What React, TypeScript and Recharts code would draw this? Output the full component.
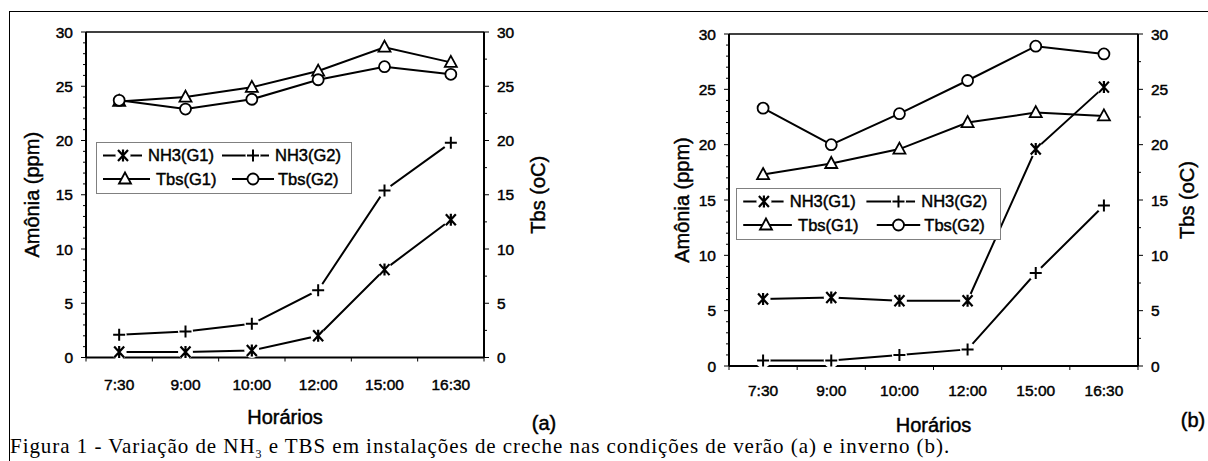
import React from "react"
import { LineChart, Line, XAxis, YAxis, Legend, ReferenceLine, Label } from "recharts"

const horarios = ["7:30", "9:00", "10:00", "12:00", "15:00", "16:30"]
const seriesNames = ["NH3(G1)", "NH3(G2)", "Tbs(G1)", "Tbs(G2)"]

// (a) verão
const nh3G1Verao = [0.5, 0.5, 0.65, 2.0, 8.1, 12.7]
const nh3G2Verao = [2.1, 2.4, 3.1, 6.2, 15.4, 19.8]
const tbsG1Verao = [23.6, 24.0, 24.9, 26.4, 28.6, 27.2]
const tbsG2Verao = [23.7, 22.9, 23.8, 25.6, 26.8, 26.1]

// (b) inverno
const nh3G1Inverno = [6.05, 6.2, 5.9, 5.9, 19.6, 25.2]
const nh3G2Inverno = [0.5, 0.5, 1.0, 1.5, 8.4, 14.5]
const tbsG1Inverno = [17.3, 18.3, 19.6, 22.0, 22.9, 22.6]
const tbsG2Inverno = [23.3, 20.0, 22.8, 25.8, 28.9, 28.2]

const leftTicks = [0, 1, 2, 3, 4, 5, 6, 7, 8, 9, 10, 11, 12, 13, 14, 15, 16, 17, 18, 19, 20, 21, 22, 23, 24, 25, 26, 27, 28, 29, 30]
const rightTicks = [0, 2.5, 5, 7.5, 10, 12.5, 15, 17.5, 20, 22.5, 25, 27.5, 30]

const SANS = "'Liberation Sans', Arial, sans-serif"
// scanned print looks heavier than plain Arial, so thicken the glyphs a bit
const ink = { fill: "#000", stroke: "#000", strokeWidth: 0.45 }
const keys = ["nh3g1", "nh3g2", "tbsg1", "tbsg2"]
const markerKinds = ["star", "plus", "triangle", "circle"]

function buildRows(g1, g2, t1, t2) {
  return horarios.map((h, i) => ({ hora: h, nh3g1: g1[i], nh3g2: g2[i], tbsg1: t1[i], tbsg2: t2[i] }))
}

function Marker({ kind, cx, cy }) {
  if (kind === "star") {
    return (
      <g>
        <circle cx={cx} cy={cy} r={7.5} fill="#fff" />
        <path
          d={`M${cx - 5},${cy - 5.5}L${cx + 5},${cy + 5.5}M${cx + 5},${cy - 5.5}L${cx - 5},${cy + 5.5}M${cx},${cy - 6}L${cx},${cy + 6}`}
          stroke="#000"
          strokeWidth={2.2}
        />
      </g>
    )
  }
  if (kind === "plus") {
    return (
      <g>
        <circle cx={cx} cy={cy} r={7.5} fill="#fff" />
        <path d={`M${cx - 6},${cy}L${cx + 6},${cy}M${cx},${cy - 6}L${cx},${cy + 6}`} stroke="#000" strokeWidth={2} />
      </g>
    )
  }
  if (kind === "triangle") {
    return (
      <polygon
        points={`${cx},${cy - 6.5} ${cx + 6},${cy + 4.5} ${cx - 6},${cy + 4.5}`}
        fill="#fff"
        stroke="#000"
        strokeWidth={1.8}
      />
    )
  }
  return <circle cx={cx} cy={cy} r={5.5} fill="#fff" stroke="#000" strokeWidth={1.8} />
}

function LeftTick({ x, y, payload }) {
  const major = payload.value % 5 === 0
  return (
    <g>
      <line x1={x} x2={x - (major ? 5 : 3)} y1={y} y2={y} stroke="#000" strokeWidth={1} />
      {major && (
        <text x={x - 13} y={y} dy="0.36em" textAnchor="end" fontSize={15.5} fontFamily={SANS} {...ink}>
          {payload.value}
        </text>
      )}
    </g>
  )
}

function RightTick({ x, y, payload }) {
  const major = payload.value % 5 === 0
  return (
    <g>
      <line x1={x} x2={x + (major ? 5 : 3)} y1={y} y2={y} stroke="#000" strokeWidth={1} />
      {major && (
        <text x={x + 13} y={y} dy="0.36em" textAnchor="start" fontSize={15.5} fontFamily={SANS} {...ink}>
          {payload.value}
        </text>
      )}
    </g>
  )
}

const makeXTick = (halfBand, labelDy) => ({ x, y, payload, index }) => (
  <g>
    <line x1={x - halfBand} x2={x - halfBand} y1={y} y2={y + 4} stroke="#000" strokeWidth={1} />
    {index === horarios.length - 1 && (
      <line x1={x + halfBand} x2={x + halfBand} y1={y} y2={y + 4} stroke="#000" strokeWidth={1} />
    )}
    <text x={x} y={y + labelDy} textAnchor="middle" fontSize={15.5} fontFamily={SANS} {...ink}>
      {payload.value}
    </text>
  </g>
)

const makeYTitle = (text, dx) => ({ viewBox }) => {
  const cx = viewBox.x + viewBox.width / 2 + dx
  const cy = viewBox.y + viewBox.height / 2
  return (
    <text
      x={cx}
      y={cy}
      transform={`rotate(-90, ${cx}, ${cy})`}
      textAnchor="middle"
      dominantBaseline="central"
      fontSize={20}
      fontFamily={SANS}
      {...ink}
    >
      {text}
    </text>
  )
}

const makeXTitle = (tag, tagX, tagY) => ({ viewBox }) => (
  <g>
    <text x={viewBox.x + viewBox.width / 2} y={viewBox.y + 66} textAnchor="middle" fontSize={20} fontFamily={SANS} {...ink}>
      Horários
    </text>
    <text x={tagX} y={tagY} textAnchor="middle" fontSize={20} fontFamily={SANS} {...ink}>
      {tag}
    </text>
  </g>
)

function LegendBox({ payload, width }) {
  const items = payload || []
  const cols = [
    { x0: 6, x1: 45, m: 26, t: 51 },
    { x0: 125, x1: 172, m: 156, t: 178 },
    { x0: 6, x1: 53, m: 28, t: 59 },
    { x0: 135, x1: 177, m: 156, t: 181 },
  ]
  const scale = width / 256
  return (
    <div style={{ width, height: 52, border: "1px solid #808080", background: "#fff", boxSizing: "border-box" }}>
      <svg width={width - 2} height={50}>
        {items.map((it, i) => {
          const c = cols[i]
          const y = i < 2 ? 12.5 : 36
          const k = keys.indexOf(it.dataKey)
          return (
            <g key={i}>
              <line x1={c.x0 * scale} x2={c.x1 * scale} y1={y} y2={y} stroke="#000" strokeWidth={1.8} />
              <Marker kind={markerKinds[k]} cx={c.m * scale} cy={y} />
              <text x={c.t * scale} y={y} dy="0.36em" fontSize={16.5} fontFamily={SANS} {...ink}>
                {it.value}
              </text>
            </g>
          )
        })}
      </svg>
    </div>
  )
}

function Panel({ rows, width, margin, legendPos, titleDx, tag, tagX, tagY, xLabelDy }) {
  const plotW = width - margin.left - margin.right - 80
  const halfBand = plotW / horarios.length / 2
  return (
    <LineChart width={width} height={461} data={rows} margin={margin}>
      <XAxis
        dataKey="hora"
        height={30}
        padding={{ left: halfBand, right: halfBand }}
        axisLine={{ stroke: "#000", strokeWidth: 2 }}
        tickLine={false}
        tickSize={0}
        tickMargin={0}
        interval={0}
        tick={makeXTick(halfBand, xLabelDy)}
      >
        <Label content={makeXTitle(tag, tagX, tagY)} />
      </XAxis>
      <YAxis
        yAxisId="left"
        width={40}
        domain={[0, 30]}
        ticks={leftTicks}
        interval={0}
        axisLine={{ stroke: "#000", strokeWidth: 2 }}
        tickLine={false}
        tickSize={0}
        tickMargin={0}
        tick={LeftTick}
      >
        <Label content={makeYTitle("Amônia (ppm)", titleDx[0])} />
      </YAxis>
      <YAxis
        yAxisId="right"
        orientation="right"
        width={40}
        domain={[0, 30]}
        ticks={rightTicks}
        interval={0}
        axisLine={{ stroke: "#000", strokeWidth: 2 }}
        tickLine={false}
        tickSize={0}
        tickMargin={0}
        tick={RightTick}
      >
        <Label content={makeYTitle("Tbs (oC)", titleDx[1])} />
      </YAxis>
      <ReferenceLine yAxisId="left" y={30} stroke="#000" strokeWidth={1.5} />
      {keys.map((k, i) => (
        <Line
          key={k}
          yAxisId={i < 2 ? "left" : "right"}
          type="linear"
          dataKey={k}
          name={seriesNames[i]}
          stroke="#000"
          strokeWidth={2}
          isAnimationActive={false}
          activeDot={false}
          dot={(p) => <Marker key={`${k}-${p.index}`} kind={markerKinds[i]} cx={p.cx} cy={p.cy} />}
        />
      ))}
      <Legend
        layout="horizontal"
        verticalAlign="middle"
        align="center"
        wrapperStyle={{ left: legendPos.left, top: legendPos.top, width: legendPos.width, height: 52 }}
        content={(props) => <LegendBox payload={props.payload} width={legendPos.width} />}
      />
    </LineChart>
  )
}

export default function App() {
  const verao = buildRows(nh3G1Verao, nh3G2Verao, tbsG1Verao, tbsG2Verao)
  const inverno = buildRows(nh3G1Inverno, nh3G2Inverno, tbsG1Inverno, tbsG2Inverno)
  return (
    <div style={{ position: "absolute", left: 0, top: 0, width: 1208, height: 461, background: "#fff", overflow: "hidden" }}>
      <div style={{ position: "absolute", left: 9, top: 11, width: 1199, height: 450, borderTop: "1.5px solid #000", borderLeft: "1.5px solid #000" }} />
      <div style={{ position: "absolute", left: 0, top: 0 }}>
        <Panel
          rows={verao}
          width={600}
          margin={{ top: 32, right: 76, bottom: 73.5, left: 46 }}
          legendPos={{ left: 96, top: 142, width: 256 }}
          titleDx={[-34, 34]}
          tag="(a)"
          tagX={544}
          tagY={430}
          xLabelDy={32}
        />
      </div>
      <div style={{ position: "absolute", left: 600, top: 0 }}>
        <Panel
          rows={inverno}
          width={608}
          margin={{ top: 34, right: 30, bottom: 65, left: 89 }}
          legendPos={{ left: 136, top: 188, width: 265 }}
          titleDx={[-27, 29]}
          tag="(b)"
          tagX={593}
          tagY={427}
          xLabelDy={29.5}
        />
      </div>
      <div
        style={{
          position: "absolute",
          left: 10,
          top: 437,
          fontFamily: "'Liberation Serif', 'Times New Roman', serif",
          fontSize: 21,
          letterSpacing: "0.95px",
          lineHeight: "18px",
          whiteSpace: "nowrap",
          color: "#000",
        }}
      >
        Figura 1 - Variação de NH<sub style={{ fontSize: 12, lineHeight: 0 }}>3</sub> e TBS em instalações de creche nas condições de verão (a) e inverno (b).
      </div>
    </div>
  )
}
